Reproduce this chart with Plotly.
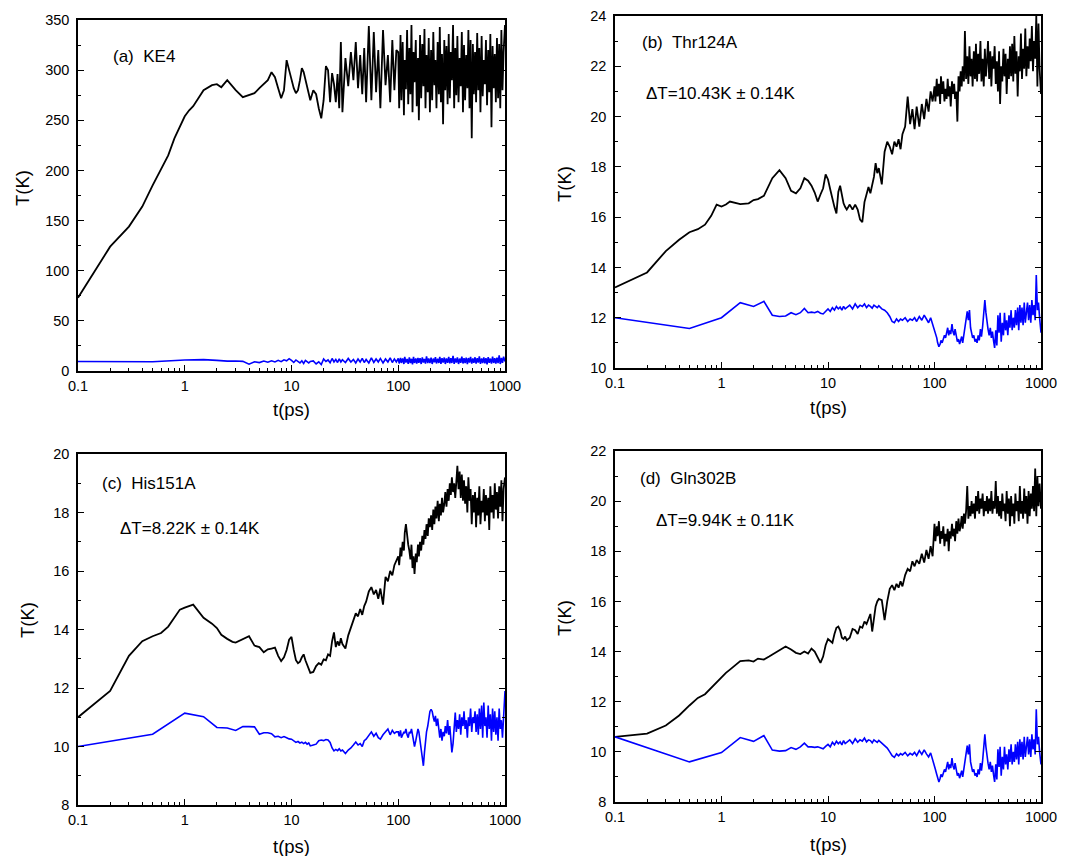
import plotly.graph_objects as go

# ---------------- time grids (ps) ----------------
X_BLACK_HEAD = [0.1, 0.2, 0.3, 0.4, 0.5, 0.6, 0.7, 0.8, 0.9, 1.0,
                1.1, 1.2, 1.5, 1.8, 2.0, 2.2, 2.5, 2.8, 3.0, 3.5,
                4.0, 4.5, 5.0, 5.5, 6.0, 6.5, 7.0, 7.5, 8.0, 8.5,
                9.0, 9.5]
X_BLUE_HEAD = [0.1, 0.5, 1.0, 1.5, 2.0, 2.5, 3.0, 3.5, 4.0, 4.5,
               5.0, 5.5, 6.0, 6.5, 7.0, 7.5, 8.0, 8.5, 9.0, 9.5]
X_T10 = [10, 10.5, 11, 11.5, 12, 12.5, 13, 13.5, 14, 14.5,
         15, 16, 17, 18, 19, 20, 21, 22, 23, 24,
         25, 26, 27, 28, 29, 30, 32, 34, 36, 38,
         40, 42, 44, 46, 48, 50, 53, 56, 59, 62,
         65, 68, 72, 76, 80, 84, 88, 92, 96]
X_T100 = [100, 102, 105, 107, 110, 113, 115, 118, 121, 124,
          127, 130, 133, 136, 139, 142, 146, 149, 153, 156,
          160, 164, 168, 172, 176, 180, 184, 189, 193, 198,
          203, 208, 213, 218, 223, 228, 234, 240, 245, 251,
          257, 263, 270, 276, 283, 290, 297, 304, 311, 318,
          326, 334, 342, 350, 358, 367, 376, 385, 394, 404,
          413, 423, 433, 444, 454, 465, 476, 488, 500, 511,
          524, 536, 549, 562, 575, 589, 604, 618, 633, 648,
          663, 679, 696, 712, 729, 747, 765, 783, 802, 821,
          841, 861, 882, 903, 925, 947, 970, 1000]

# ---------------- (a) KE4 ----------------
A_BLACK_HEAD = [73, 124, 144, 164, 185, 202, 215, 232, 243, 254,
                260, 264, 280, 285, 286, 283, 290, 284, 280, 273,
                275, 277, 282, 286, 290, 298, 293, 282, 272, 280,
                310, 300]
A_BLACK_T10 = [290, 282, 277, 280, 290, 302, 298, 290, 285, 278,
               270, 280, 276, 262, 252, 270, 304, 300, 268, 297,
               286, 268, 296, 262, 328, 258, 312, 284, 318, 290,
               328, 282, 315, 276, 322, 268, 344, 270, 338, 278,
               320, 262, 340, 285, 315, 268, 330, 280, 320]
A_BLACK_T100 = [318, 262, 335, 270, 328, 255, 310, 281, 340, 266,
                322, 276, 345, 258, 318, 288, 330, 264, 312, 250,
                335, 272, 326, 284, 341, 262, 315, 278, 332, 258,
                320, 270, 338, 285, 310, 262, 328, 276, 343, 268,
                316, 246, 330, 280, 324, 266, 336, 272, 318, 290,
                345, 262, 322, 275, 334, 268, 312, 284, 338, 258,
                325, 270, 315, 282, 340, 262, 330, 232, 326, 276,
                318, 268, 337, 280, 322, 258, 334, 274, 310, 286,
                330, 265, 320, 278, 336, 243, 324, 282, 316, 268,
                332, 272, 326, 262, 340, 280, 318, 345]
A_BLUE_HEAD = [9.5, 9.2, 11.0, 11.3, 10.6, 9.8, 10.0, 9.6, 6.8, 9.2,
               8.4, 9.9, 8.8, 10.2, 9.0, 10.6, 9.3, 11.2, 10.2, 12.3]
A_BLUE_T10 = [10.5, 8.5, 11.0, 9.0, 8.0, 10.2, 7.5, 10.5, 9.0, 8.0,
              9.5, 10.0, 7.0, 9.2, 6.5, 12.0, 9.5, 11.0, 8.2, 12.5,
              9.0, 11.5, 8.5, 12.0, 9.0, 11.2, 8.5, 12.5, 9.0, 11.5,
              8.0, 12.0, 9.0, 12.5, 8.5, 11.5, 8.0, 13.0, 8.5, 12.0,
              9.0, 12.5, 8.0, 12.0, 9.0, 13.0, 8.5, 12.0, 9.0]
A_BLUE_T100 = [12.5, 7.5, 13.0, 8.0, 12.5, 7.0, 14.0, 8.5, 12.0, 7.2,
               13.5, 8.0, 12.2, 6.5, 14.0, 8.0, 12.5, 7.5, 13.0, 8.2,
               12.8, 7.0, 13.5, 8.5, 12.0, 7.4, 14.5, 8.0, 12.6, 7.8,
               13.2, 7.0, 12.4, 8.6, 13.8, 7.5, 12.2, 8.0, 14.2, 7.2,
               12.8, 8.4, 13.4, 7.0, 12.5, 8.2, 14.0, 7.6, 12.9, 8.0,
               15.0, 7.2, 12.6, 8.5, 13.6, 7.0, 12.4, 8.2, 14.3, 7.5,
               12.7, 8.0, 13.3, 6.8, 12.9, 8.4, 14.1, 7.3, 12.5, 8.1,
               13.7, 7.4, 12.8, 8.3, 14.6, 7.1, 12.6, 8.0, 13.5, 7.6,
               12.9, 6.5, 13.8, 8.2, 12.4, 7.3, 14.4, 8.0, 12.7, 7.5,
               13.4, 7.8, 15.5, 7.0, 13.0, 8.2, 14.2, 9.5]

# ---------------- (b) Thr124A ----------------
B_BLACK_HEAD = [13.2, 13.8, 14.65, 15.1, 15.4, 15.52, 15.7, 16.05, 16.5, 16.42,
                16.5, 16.62, 16.52, 16.55, 16.68, 16.72, 16.85, 17.3, 17.55, 17.87,
                17.55, 17.05, 16.95, 17.15, 17.55, 17.45, 17.25, 16.98, 16.62, 16.9,
                17.15, 17.7]
B_BLACK_T10 = [17.5, 17.1, 16.7, 16.4, 16.15, 17.0, 17.25, 16.9, 16.55, 16.4,
               16.3, 16.5, 16.3, 16.5, 16.3, 15.9, 15.8, 16.6, 16.9, 17.2,
               16.95, 17.35, 17.6, 18.15, 17.75, 17.95, 17.3, 18.6, 19.0, 18.8,
               18.5, 19.0, 18.8, 19.1, 18.7, 19.3, 19.6, 20.8, 19.7, 20.3,
               19.5, 20.4, 19.6, 20.5, 19.9, 20.7, 20.2, 21.0, 20.6]
B_BLACK_T100 = [21.2, 20.6, 21.5, 20.8, 21.3, 20.5, 21.6, 20.9, 21.4, 20.6,
                21.1, 20.7, 21.5, 20.8, 21.2, 20.4, 21.4, 20.9, 21.3, 20.7,
                21.0, 19.8, 21.6, 21.0, 21.8, 21.2, 22.0, 21.4, 23.4, 21.5,
                22.4, 21.3, 22.8, 21.6, 22.3, 21.2, 22.6, 21.5, 22.9, 21.4,
                22.5, 21.7, 23.0, 21.4, 22.3, 21.2, 22.7, 21.6, 22.2, 23.0,
                21.5, 22.6, 21.2, 22.4, 21.9, 22.8, 21.3, 22.2, 21.0, 22.6,
                20.5, 22.0, 21.4, 22.7, 21.6, 22.5, 20.9, 22.3, 21.5, 22.8,
                21.6, 22.9, 21.4, 23.2, 21.7, 22.6, 20.8, 22.4, 21.8, 23.3,
                21.5, 22.7, 21.9, 23.5, 21.6, 22.8, 21.9, 23.1, 22.2, 23.6,
                21.8, 23.0, 22.3, 24.0, 21.2, 23.7, 21.9, 20.9]
B_BLUE_HEAD = [12.0, 11.57, 12.0, 12.6, 12.45, 12.65, 12.1, 12.05, 12.07, 12.2,
               12.12, 12.2, 12.37, 12.2, 12.22, 12.2, 12.25, 12.18, 12.15, 12.25]
B_BLUE_T10 = [12.35, 12.25, 12.4, 12.3, 12.45, 12.35, 12.42, 12.3, 12.45, 12.35,
              12.4, 12.5, 12.35, 12.55, 12.4, 12.5, 12.45, 12.55, 12.4, 12.5,
              12.45, 12.38, 12.5, 12.45, 12.4, 12.48, 12.35, 12.3, 12.2, 12.05,
              11.85, 11.8, 11.95, 11.85, 11.95, 11.9, 12.0, 11.85, 11.95, 11.9,
              12.0, 11.85, 12.05, 11.9, 12.1, 11.95, 11.8, 12.0, 11.75]
B_BLUE_T100 = [11.45, 11.35, 11.2, 11.0, 10.85, 10.95, 11.1, 11.0, 11.2, 11.3,
               11.2, 11.45, 11.6, 11.3, 11.5, 11.35, 11.75, 11.45, 11.3, 11.55,
               11.3, 11.05, 11.15, 10.95, 11.1, 11.25, 11.0, 11.35, 11.6, 12.05,
               12.25, 11.9, 12.3, 11.6, 11.45, 11.2, 11.3, 11.05, 11.15, 11.0,
               11.3, 11.1, 11.55, 11.25, 11.65, 12.1, 12.7, 12.2, 11.8, 11.55,
               11.3, 11.6, 11.2, 11.45, 11.1, 10.8, 11.5, 10.9, 12.1, 11.4,
               12.2, 11.05, 11.8, 11.3, 12.2, 11.5, 11.9, 11.3, 12.1, 11.6,
               12.3, 11.5, 12.0, 11.6, 12.3, 11.7, 12.4, 11.5, 12.5, 11.8,
               12.4, 11.7, 12.6, 11.8, 12.2, 12.6, 11.9, 12.5, 11.8, 12.7,
               12.1, 12.5, 11.9, 13.7, 12.3, 12.6, 12.0, 11.4]

# ---------------- (c) His151A ----------------
C_BLACK_HEAD = [11.0, 11.9, 13.1, 13.6, 13.77, 13.88, 14.1, 14.42, 14.68, 14.75,
                14.8, 14.85, 14.4, 14.2, 14.05, 13.82, 13.68, 13.58, 13.55, 13.68,
                13.77, 13.45, 13.4, 13.22, 13.32, 13.35, 13.38, 13.1, 12.92, 13.05,
                13.3, 13.65]
C_BLACK_T10 = [13.75, 13.3, 12.95, 12.85, 12.9, 13.05, 13.15, 12.95, 12.8, 12.6,
               12.52, 12.55, 12.75, 12.85, 12.8, 12.98, 12.95, 13.15, 13.1, 13.6,
               13.9, 13.4, 13.6, 13.45, 13.7, 13.5, 13.35, 13.8, 14.05, 14.3,
               14.55, 14.45, 14.7, 14.5, 14.8, 14.95, 15.3, 15.45, 15.2, 15.35,
               15.05, 15.4, 14.85, 15.8, 15.65, 16.0, 15.85, 16.2, 16.35]
C_BLACK_T100 = [16.5, 16.2, 16.8, 16.5, 17.0, 16.7, 17.3, 17.6, 17.1, 16.9,
                16.7, 16.4, 16.9, 16.1, 16.5, 15.9, 16.6, 16.3, 16.9, 16.5,
                17.0, 16.7, 17.2, 16.9, 17.4, 17.1, 17.6, 17.2, 17.8, 17.5,
                17.9, 17.4, 18.1, 17.6, 18.2, 17.8, 18.4, 17.7, 18.3, 17.9,
                18.5, 18.0, 18.3, 18.7, 18.2, 18.8, 18.4, 19.0, 18.6, 19.2,
                18.7, 19.0, 18.5, 19.3, 19.6, 18.8, 19.4, 18.5, 19.3, 18.4,
                19.1, 18.3, 18.9, 18.0, 19.2, 18.4, 18.8, 17.6, 18.6, 18.0,
                18.7, 17.5, 18.5, 17.9, 18.9, 17.6, 18.4, 18.0, 18.8, 17.7,
                18.6, 17.9, 18.5, 17.4, 18.9, 18.0, 18.6, 17.8, 19.0, 18.1,
                18.7, 17.8, 18.9, 18.2, 19.1, 17.7, 18.8, 19.2]
C_BLUE_HEAD = [10.0, 10.42, 11.14, 11.02, 10.65, 10.63, 10.55, 10.68, 10.68, 10.67,
               10.42, 10.47, 10.47, 10.44, 10.33, 10.35, 10.3, 10.34, 10.3, 10.26]
C_BLUE_T10 = [10.25, 10.2, 10.14, 10.17, 10.12, 10.15, 10.1, 10.14, 10.08, 10.12,
              10.02, 10.05, 10.08, 10.2, 10.22, 10.2, 10.24, 10.22, 10.14, 9.95,
              9.85, 9.9, 9.86, 9.92, 9.85, 9.88, 9.76, 9.88, 9.95, 10.05,
              10.15, 10.05, 10.1, 10.0, 10.2, 10.25, 10.4, 10.5, 10.35, 10.45,
              10.3, 10.25, 10.4, 10.5, 10.6, 10.4, 10.55, 10.45, 10.5]
C_BLUE_T100 = [10.5, 10.35, 10.55, 10.3, 10.4, 10.5, 10.45, 10.6, 10.4, 10.3,
               10.5, 10.45, 10.6, 10.35, 10.1, 10.0, 10.2, 10.35, 10.6, 10.5,
               10.2, 10.0, 9.7, 9.34, 9.8, 10.2, 10.5, 10.7, 10.95, 11.2,
               11.27, 11.2, 11.0, 10.85, 11.05, 10.7, 10.95, 10.6, 10.3, 10.6,
               10.2, 10.5, 10.35, 10.7, 10.45, 10.9, 10.4, 10.7, 10.2, 9.8,
               10.1, 10.6, 11.16, 10.5, 10.9, 10.6, 11.1, 10.4, 11.0, 10.7,
               11.2, 10.6, 10.9, 10.3, 11.0, 10.7, 11.3, 10.5, 11.0, 10.8,
               11.2, 10.5, 11.1, 10.4, 11.3, 10.6, 11.4, 10.3, 11.5, 10.7,
               11.0, 10.3, 11.4, 10.6, 11.1, 10.2, 11.3, 10.5, 11.2, 10.4,
               11.0, 10.2, 11.3, 10.6, 10.9, 10.3, 11.2, 11.9]

# ---------------- (d) Gln302B ----------------
D_BLACK_HEAD = [10.6, 10.73, 11.05, 11.45, 11.85, 12.15, 12.3, 12.55, 12.78, 13.0,
                13.15, 13.28, 13.62, 13.65, 13.6, 13.72, 13.68, 13.8, 13.88, 14.05,
                14.2, 14.08, 13.95, 13.9, 14.0, 13.92, 14.12, 14.0, 13.75, 13.55,
                13.8, 14.25]
D_BLACK_T10 = [14.5, 14.4, 14.35, 14.7, 14.95, 15.0, 14.85, 14.55, 14.5, 14.6,
               14.45, 14.55, 14.9, 14.85, 14.7, 15.0, 14.95, 15.2, 15.1, 15.3,
               15.5, 14.8, 15.3, 15.8, 16.0, 16.1, 16.05, 15.25, 16.0, 16.5,
               16.65, 16.45, 16.7, 16.55, 16.8, 16.6, 17.05, 17.3, 17.2, 17.6,
               17.4, 17.65, 17.5, 17.9, 17.55, 18.05, 17.7, 18.2, 17.8]
D_BLACK_T100 = [19.1, 18.4, 19.0, 18.6, 19.2, 18.3, 18.8, 18.5, 19.0, 18.2,
                18.7, 18.4, 18.9, 18.0, 18.8, 18.5, 19.1, 18.6, 18.9, 18.4,
                19.2, 18.7, 19.3, 18.8, 19.0, 19.4, 18.9, 19.5, 19.1, 19.6,
                20.6, 19.3, 19.8, 19.4, 20.0, 19.5, 19.9, 19.3, 20.2, 19.6,
                20.4, 19.5, 20.1, 19.7, 20.3, 19.4, 20.0, 19.6, 20.2, 19.5,
                20.1, 19.6, 20.4, 19.5, 20.0, 19.7, 20.8, 19.5, 20.2, 19.4,
                20.0, 19.3, 20.3, 19.6, 19.9, 19.2, 20.4, 19.5, 20.1, 19.0,
                20.2, 19.4, 19.9, 19.1, 20.3, 19.6, 20.0, 19.2, 20.6, 19.5,
                20.0, 19.3, 20.5, 19.5, 20.2, 19.1, 20.4, 19.4, 20.3, 19.7,
                20.6, 19.6, 21.3, 19.4, 21.0, 19.8, 20.7, 19.7]
D_BLUE_HEAD = [10.6, 9.6, 9.97, 10.57, 10.42, 10.65, 10.07, 10.03, 10.05, 10.17,
               10.1, 10.2, 10.35, 10.2, 10.2, 10.18, 10.2, 10.15, 10.12, 10.22]
D_BLUE_T10 = [10.3, 10.2, 10.38, 10.28, 10.42, 10.32, 10.4, 10.28, 10.45, 10.33,
              10.38, 10.48, 10.33, 10.52, 10.38, 10.48, 10.43, 10.55, 10.4, 10.48,
              10.45, 10.36, 10.48, 10.42, 10.38, 10.46, 10.34, 10.25, 10.15, 10.0,
              9.85, 9.78, 9.92, 9.84, 9.93, 9.88, 9.98, 9.84, 9.94, 9.88,
              9.98, 9.85, 10.05, 9.9, 10.08, 9.92, 9.8, 9.96, 9.72]
D_BLUE_T100 = [9.45, 9.3, 9.1, 8.95, 8.8, 8.95, 9.1, 9.0, 9.2, 9.3,
               9.2, 9.45, 9.6, 9.3, 9.5, 9.35, 9.75, 9.45, 9.3, 9.55,
               9.3, 9.05, 9.15, 8.95, 9.1, 9.25, 9.0, 9.35, 9.6, 10.05,
               10.25, 9.9, 10.3, 9.6, 9.45, 9.2, 9.3, 9.05, 9.15, 9.0,
               9.3, 9.1, 9.55, 9.25, 9.65, 10.1, 10.7, 10.2, 9.8, 9.55,
               9.3, 9.6, 9.2, 9.45, 9.1, 8.8, 9.5, 8.9, 10.1, 9.4,
               10.2, 9.05, 9.8, 9.3, 10.2, 9.5, 9.9, 9.3, 10.1, 9.6,
               10.3, 9.5, 10.0, 9.6, 10.3, 9.7, 10.4, 9.5, 10.5, 9.8,
               10.4, 9.7, 10.6, 9.8, 10.2, 10.6, 9.9, 10.5, 9.8, 10.7,
               10.1, 10.5, 9.9, 11.7, 10.3, 10.6, 10.0, 9.5]

PANEL_LABELS = ["(a)\u00a0 KE4", "(b)\u00a0 Thr124A", "(c)\u00a0 His151A", "(d)\u00a0 Gln302B"]
DELTA_LABELS = [None, "\u0394T=10.43K \u00b1 0.14K", "\u0394T=8.22K \u00b1 0.14K", "\u0394T=9.94K \u00b1 0.11K"]
Y_RANGES = [(0, 350), (10, 24), (8, 20), (8, 22)]
Y_DTICK = [50, 2, 2, 2]
Y_MINOR = [25, 1, 1, 1]
X_TICKS = [0.1, 1, 10, 100, 1000]
X_TICKTEXT = ["0.1", "1", "10", "100", "1000"]
X_MINOR = [0.2, 0.3, 0.4, 0.5, 0.6, 0.7, 0.8, 0.9, 2, 3, 4, 5, 6, 7, 8, 9,
           20, 30, 40, 50, 60, 70, 80, 90, 200, 300, 400, 500, 600, 700, 800, 900]

series = [
    (A_BLACK_HEAD + A_BLACK_T10 + A_BLACK_T100, A_BLUE_HEAD + A_BLUE_T10 + A_BLUE_T100),
    (B_BLACK_HEAD + B_BLACK_T10 + B_BLACK_T100, B_BLUE_HEAD + B_BLUE_T10 + B_BLUE_T100),
    (C_BLACK_HEAD + C_BLACK_T10 + C_BLACK_T100, C_BLUE_HEAD + C_BLUE_T10 + C_BLUE_T100),
    (D_BLACK_HEAD + D_BLACK_T10 + D_BLACK_T100, D_BLUE_HEAD + D_BLUE_T10 + D_BLUE_T100),
]
x_black = X_BLACK_HEAD + X_T10 + X_T100
x_blue = X_BLUE_HEAD + X_T10 + X_T100
for i, (yb, yl) in enumerate(series):
    if len(yb) != len(x_black) or len(yl) != len(x_blue):
        raise ValueError(f"panel {i}: black {len(yb)} vs {len(x_black)}, blue {len(yl)} vs {len(x_blue)}")

W, H = 1068, 856
# plot-area boxes in pixels (left, right, top, bottom)
BOXES = [(78, 505, 20, 371), (615, 1041, 16, 368), (78, 505, 454, 805), (615, 1041, 451, 802)]
# axis title positions (px)
YT_POS = [(23, 188), (564, 184), (27, 620), (564, 618)]
XT_POS = [(291, 409), (828, 408), (291, 846), (828, 844)]
LBL_POS = [(111, 57), (640, 42), (100, 483), (638, 478)]
DT_POS = [None, (644, 93), (118, 528), (654, 520)]

FONT = "Liberation Sans, Arial, sans-serif"

fig = go.Figure()
layout = dict(width=W, height=H, margin=dict(l=0, r=0, t=0, b=0, autoexpand=False),
              paper_bgcolor="white", plot_bgcolor="white", showlegend=False,
              font=dict(family=FONT, color="black"))
annotations = []


def px(x):
    return x / W


def py(y):
    return 1 - y / H


for i, (yb, yl) in enumerate(series):
    n = "" if i == 0 else str(i + 1)
    l, r, t, b = BOXES[i]
    layout["xaxis" + n] = dict(
        type="log", range=[-1, 3], domain=[px(l), px(r)], anchor="y" + n,
        tickmode="array", tickvals=X_TICKS, ticktext=X_TICKTEXT,
        ticks="inside", ticklen=6, tickwidth=1.2, tickcolor="black",
        showline=True, linecolor="black", linewidth=1.5, mirror=True,
        showgrid=False, zeroline=False, automargin=False,
        tickfont=dict(size=14.5, family=FONT), ticklabelstandoff=1,
        minor=dict(tickmode="array", tickvals=X_MINOR, ticks="inside", ticklen=3.5,
                   tickwidth=1, tickcolor="black", showgrid=False),
    )
    layout["yaxis" + n] = dict(
        range=list(Y_RANGES[i]), domain=[py(b), py(t)], anchor="x" + n,
        dtick=Y_DTICK[i], tick0=0,
        ticks="inside", ticklen=6, tickwidth=1.2, tickcolor="black",
        showline=True, linecolor="black", linewidth=1.5, mirror="ticks",
        showgrid=False, zeroline=False, automargin=False,
        tickfont=dict(size=14.5, family=FONT), ticklabelstandoff=4,
        minor=dict(dtick=Y_MINOR[i], ticks="inside", ticklen=3.5, tickwidth=1,
                   tickcolor="black", showgrid=False),
    )
    fig.add_trace(go.Scatter(x=x_black, y=yb, mode="lines", xaxis="x" + n, yaxis="y" + n,
                             line=dict(color="black", width=1.8)))
    fig.add_trace(go.Scatter(x=x_blue, y=yl, mode="lines", xaxis="x" + n, yaxis="y" + n,
                             line=dict(color="#0000FF", width=1.6)))

    annotations.append(dict(text="T(K)", x=px(YT_POS[i][0]), y=py(YT_POS[i][1]), xref="paper", yref="paper",
                            showarrow=False, textangle=-90, font=dict(size=18.5, family=FONT),
                            xanchor="center", yanchor="middle"))
    annotations.append(dict(text="t(ps)", x=px(XT_POS[i][0]), y=py(XT_POS[i][1]), xref="paper", yref="paper",
                            showarrow=False, font=dict(size=18.5, family=FONT),
                            xanchor="center", yanchor="middle"))
    annotations.append(dict(text=PANEL_LABELS[i], x=px(LBL_POS[i][0]), y=py(LBL_POS[i][1]),
                            xref="paper", yref="paper", showarrow=False,
                            font=dict(size=17, family=FONT), xanchor="left", yanchor="middle"))
    if DELTA_LABELS[i]:
        annotations.append(dict(text=DELTA_LABELS[i], x=px(DT_POS[i][0]), y=py(DT_POS[i][1]),
                                xref="paper", yref="paper", showarrow=False,
                                font=dict(size=17, family=FONT), xanchor="left", yanchor="middle"))

layout["annotations"] = annotations
fig.update_layout(**layout)
fig.write_html("out.html")
